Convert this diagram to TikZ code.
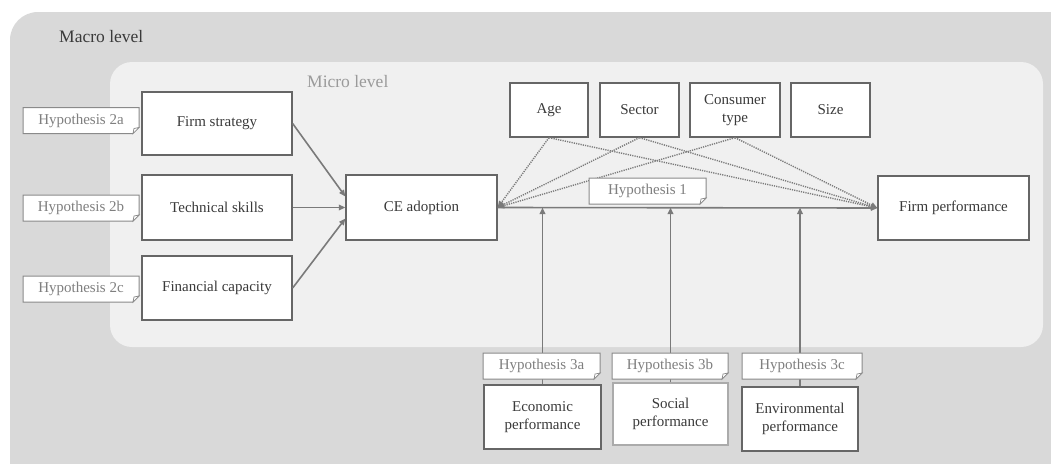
\documentclass[tikz,border=0pt]{standalone}
\usepackage{fontspec}
\setmainfont{Liberation Serif}
\usetikzlibrary{arrows.meta,calc}
\definecolor{macrobg}{HTML}{D9D9D9}
\definecolor{microbg}{HTML}{F0F0F0}
\definecolor{boxline}{HTML}{666666}
\definecolor{txt}{HTML}{3A3A3A}
\definecolor{tagtxt}{HTML}{7F7F7F}
\definecolor{tagline}{HTML}{8A8A8A}
\definecolor{arr}{HTML}{7A7A7A}
\definecolor{microtxt}{HTML}{9A9A9A}
\newcommand\hyptag[5]{%
  \pgfmathsetmacro\tgxa{#2-#4/2}\pgfmathsetmacro\tgxb{#2+#4/2}%
  \pgfmathsetmacro\tgya{#3-13}\pgfmathsetmacro\tgyb{#3+13}%
  \filldraw[fill=white,draw=tagline,line width=1pt] (\tgxa,\tgya) -- (\tgxb,\tgya) -- (\tgxb,\tgyb-6) -- (\tgxb-6,\tgyb) -- (\tgxa,\tgyb) -- cycle;
  \filldraw[fill=white,draw=tagline,line width=0.7pt] (\tgxb,\tgyb-6) -- (\tgxb-6,\tgyb) -- (\tgxb-5,\tgyb-5) -- cycle;
  \node[tagnode, minimum width=#4] (#1) at (#2,#3) {#5};
}
\begin{document}
\begin{tikzpicture}[x=1pt,y=-1pt,
  box/.style={draw=boxline, line width=1.3pt, fill=white, text=txt,
    font=\fontsize{15}{17.5}\selectfont, align=center, inner sep=0pt},
  tagnode/.style={text=tagtxt, font=\fontsize{15}{17}\selectfont, inner sep=0pt, minimum height=26pt},
  conn/.style={draw=arr, line width=1.6pt, -{Triangle[length=6.5pt,width=5.5pt]}},
  dotconn/.style={draw=arr, line width=1.4pt, dash pattern=on 1.2pt off 1.1pt, -{Triangle[length=6.5pt,width=5.5pt]}},
  level/.style={anchor=west, inner sep=0pt, font=\fontsize{17.5}{20}\selectfont}
]
\useasboundingbox (0,0) rectangle (1051,463);
\begin{scope}
\clip (0,0) rectangle (1051,463);
\fill[macrobg, rounded corners=28pt] (10,12) rectangle (1085,490);
\end{scope}
\fill[microbg, rounded corners=22pt] (110,62) rectangle (1043,347);

\node[level, text=txt] (macro) at (59,37) {Macro level};
\node[level, text=microtxt] (micro) at (307,82) {Micro level};

% boxes
\node[box, minimum width=150pt, minimum height=63pt] (fs) at (217,123.5) {Firm strategy};
\node[box, minimum width=150pt, minimum height=65pt] (ts) at (217,207.5) {Technical skills};
\node[box, minimum width=150pt, minimum height=64pt] (fc) at (217,288) {Financial capacity};
\node[box, minimum width=151pt, minimum height=65pt] (ce) at (421.5,207.5) {CE adoption};
\node[box, minimum width=78pt, minimum height=54pt] (age) at (549,110) {Age};
\node[box, minimum width=79pt, minimum height=54pt] (sec) at (639.5,110) {Sector};
\node[box, minimum width=90pt, minimum height=54pt] (con) at (735,110) {Consumer\\type};
\node[box, minimum width=79pt, minimum height=54pt] (size) at (830.5,110) {Size};
\node[box, minimum width=151pt, minimum height=64pt] (fp) at (953.5,208) {Firm performance};
\node[box, minimum width=117pt, minimum height=64pt] (econ) at (542.5,417) {Economic\\performance};
\node[box, draw=boxline!55, minimum width=115pt, minimum height=62pt] (soc) at (670.5,414) {Social\\performance};
\node[box, minimum width=116pt, minimum height=64pt] (env) at (800,419) {Environmental\\performance};

% connectors
\draw[conn] (fs.east) -- ([yshift=11pt]ce.west);
\draw[conn] (ts.east) -- (ce.west);
\draw[conn] (fc.east) -- ([yshift=-11pt]ce.west);
\draw[conn] (ce.east) -- (fp.west);
\foreach \m in {age,sec,con}{
  \draw[dotconn] (\m.south) -- (ce.east);
  \draw[dotconn] (\m.south) -- (fp.west);
}
\draw[conn] (econ.north) -- (econ.north |- ce.east);
\draw[conn] (soc.north) -- (soc.north |- ce.east);
\draw[conn] (env.north) -- (env.north |- ce.east);

% hypothesis tags
\hyptag{h2a}{81}{120.5}{116}{Hypothesis 2a}
\hyptag{h2b}{81}{208}{116}{Hypothesis 2b}
\hyptag{h2c}{81}{289}{116}{Hypothesis 2c}
\hyptag{h1}{647.5}{191}{117}{Hypothesis 1}
\hyptag{h3a}{541.5}{366}{117}{Hypothesis 3a}
\hyptag{h3b}{670}{366}{116}{Hypothesis 3b}
\hyptag{h3c}{802}{366}{120}{Hypothesis 3c}
\end{tikzpicture}
\end{document}
